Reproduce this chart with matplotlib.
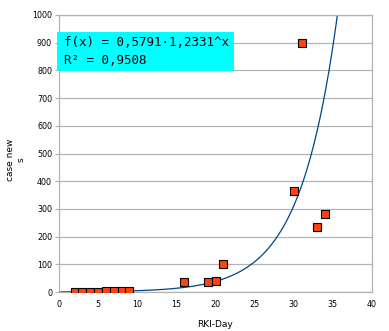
import numpy as np
import matplotlib
matplotlib.use("Agg")
import matplotlib.pyplot as plt

# RKI day vs new cases
days = [2, 3, 4, 5, 6, 7, 8, 9, 16, 19, 20, 21, 30, 31, 33, 34]
new_cases = [0, 0, 0, 1, 2, 3, 3, 5, 37, 37, 41, 102, 365, 900, 233, 283]

# exponential trend line coefficients (shown in the box)
fit_a = 0.5791
fit_b = 1.2331

fig = plt.figure(figsize=(3.89, 3.31), dpi=100)
ax = fig.add_axes([59 / 389, 1 - 292 / 331, 313 / 389, 277 / 331])

x_fit = np.linspace(0, 40, 400)
y_fit = fit_a * fit_b ** x_fit
ax.plot(x_fit, y_fit, color='#004586', lw=0.9, zorder=2)

ax.plot(days, new_cases, linestyle='none', marker='s', markersize=6.2,
        markerfacecolor='#ff420e', markeredgecolor='black', markeredgewidth=0.8, zorder=3)

ax.set_xlim(0, 40)
ax.set_ylim(0, 1000)
ax.set_xticks(range(0, 41, 5))
ax.set_yticks(range(0, 1001, 100))
ax.yaxis.grid(True, color='#b3b3b3', lw=0.9)
ax.set_axisbelow(True)
for s in ax.spines.values():
    s.set_color('#b3b3b3')
    s.set_linewidth(0.9)
ax.tick_params(axis='both', labelsize=5.8, colors='#b3b3b3', labelcolor='black', length=3, width=0.9)
ax.tick_params(axis='x', length=0, pad=6)
ax.tick_params(axis='y', pad=2)

ax.set_xlabel('RKI-Day', fontsize=6.5, labelpad=8)
# y label placed by hand (wrapped in two lines like the original)
fig.text(16 / 389, 1 - 160 / 331, 'case new\ns', rotation=90, fontsize=6.5,
         ha='center', va='center', multialignment='center')

# equation box
fig.patches.append(plt.Rectangle((57 / 389, 1 - 71 / 331), 177 / 389, 39 / 331,
                                 transform=fig.transFigure, facecolor='#00ffff',
                                 edgecolor='none', zorder=5))
fig.text(64 / 389, 1 - 43 / 331, 'f(x) = 0,5791·1,2331^x', family='DejaVu Sans Mono',
         fontsize=9, va='center', ha='left', zorder=6)
fig.text(64 / 389, 1 - 60 / 331, 'R² = 0,9508', family='DejaVu Sans Mono',
         fontsize=9, va='center', ha='left', zorder=6)

fig.savefig('out.png', dpi=100)
